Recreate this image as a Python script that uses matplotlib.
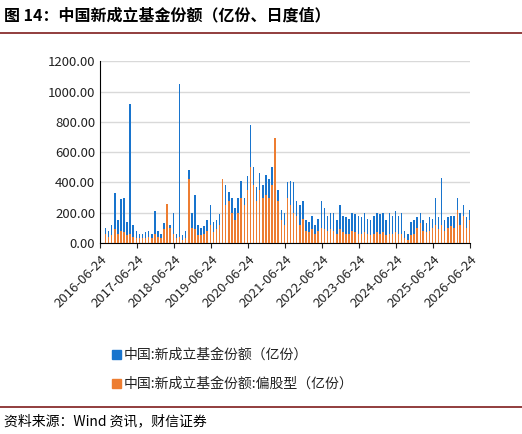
import numpy as np
import pandas as pd
import matplotlib
matplotlib.use("Agg")
import matplotlib.pyplot as plt
import matplotlib.dates as mdates

plt.rcParams['font.family'] = ['Noto Sans CJK SC', 'DejaVu Sans']

# monthly peak values, starting 2016-07 (亿份)
total = [
    100, 80, 120, 330, 150, 290, 300, 140, 920, 120, 80, 60,
    60, 70, 80, 60, 210, 80, 60, 130, 170, 120, 200, 60,
    1050, 50, 80, 480, 200, 320, 120, 100, 110, 150, 250, 140,
    150, 190, 420, 380, 340, 300, 230, 300, 410, 300, 440, 780,
    500, 370, 460, 380, 450, 420, 500, 690, 350, 220, 200, 400,
    410, 400, 280, 250, 280, 150, 140, 180, 120, 160, 280, 230,
    180, 200, 200, 150, 250, 180, 170, 160, 200, 190, 180, 170,
    200, 160, 150, 180, 200, 190, 200, 150, 200, 180, 210, 180,
    200, 80, 60, 140, 150, 170, 200, 150, 130, 170, 160, 300,
    170, 430, 150, 170, 180, 180, 300, 200, 250, 170, 220, 300,
]
equity = [
    60, 40, 50, 90, 60, 80, 70, 50, 60, 40, 30, 30,
    30, 30, 40, 30, 60, 40, 30, 90, 260, 100, 60, 30,
    40, 20, 30, 420, 100, 90, 50, 50, 60, 80, 120, 70,
    90, 120, 420, 250, 280, 200, 150, 200, 300, 250, 350, 500,
    380, 280, 350, 300, 320, 300, 380, 690, 280, 150, 120, 300,
    250, 200, 180, 120, 160, 80, 70, 90, 60, 80, 100, 90,
    80, 90, 80, 60, 90, 70, 60, 60, 80, 70, 60, 60,
    70, 60, 50, 60, 70, 60, 70, 50, 60, 60, 70, 60,
    60, 30, 20, 50, 60, 100, 130, 80, 70, 80, 100, 120,
    90, 120, 80, 100, 110, 100, 220, 120, 180, 100, 150, 270,
]
months = pd.date_range("2016-07-10", periods=len(total), freq="MS") + pd.Timedelta(days=14)
tick_dates = pd.date_range("2016-06-24", periods=11, freq=pd.DateOffset(years=1))

fig = plt.figure(figsize=(5.22, 4.34), dpi=100)
ax = fig.add_axes([0.192, 0.44, 0.709, 0.419])
ax.bar(months, total, width=14, color="#1874CD", linewidth=0, zorder=2)
ax.bar(months, equity, width=14, color="#ED7D31", linewidth=0, zorder=3)

ax.set_ylim(0, 1200)
ax.set_yticks(np.arange(0, 1201, 200))
ax.yaxis.set_major_formatter(matplotlib.ticker.FormatStrFormatter("%.2f"))
ax.set_xlim(tick_dates[0], tick_dates[-1])
ax.set_xticks(tick_dates)
ax.xaxis.set_major_formatter(mdates.DateFormatter("%Y-%m-%d"))
plt.setp(ax.get_xticklabels(), rotation=45, ha="right", rotation_mode="anchor")
ax.tick_params(labelsize=9.5, colors="#222222")
ax.tick_params(axis="y", length=0)
ax.grid(axis="y", color="#d9d9d9", linewidth=1, zorder=0)
for s in ["top", "right"]:
    ax.spines[s].set_visible(False)

# legend
fig.patches.append(plt.Rectangle((0.215, 0.172), 0.016, 0.022, transform=fig.transFigure, color="#1874CD"))
fig.patches.append(plt.Rectangle((0.215, 0.105), 0.016, 0.022, transform=fig.transFigure, color="#ED7D31"))
fig.text(0.237, 0.183, "中国:新成立基金份额（亿份）", fontsize=10, va="center", color="#222222")
fig.text(0.237, 0.116, "中国:新成立基金份额:偏股型（亿份）", fontsize=10, va="center", color="#222222")

# title / source
fig.text(0.008, 0.965, "图 14：中国新成立基金份额（亿份、日度值）", fontsize=11.5, fontweight="bold", va="center")
fig.add_artist(plt.Line2D([0, 1], [0.925, 0.925], color="#7f1d1d", linewidth=1.2))
fig.add_artist(plt.Line2D([0, 1], [0.062, 0.062], color="#7f1d1d", linewidth=1.2))
fig.text(0.008, 0.03, "资料来源：Wind 资讯，财信证券", fontsize=10, style="italic", va="center")

fig.savefig("out.png", dpi=100)
